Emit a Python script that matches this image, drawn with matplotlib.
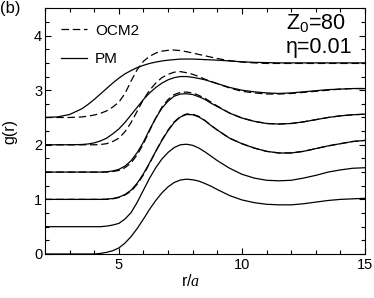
import numpy as np
import matplotlib
matplotlib.use('Agg')
from matplotlib import pyplot as plt
from matplotlib.ticker import MultipleLocator

plt.rcParams['font.family'] = ['Liberation Sans', 'DejaVu Sans']
plt.rcParams['mathtext.fontset'] = 'custom'
plt.rcParams['mathtext.rm'] = 'Liberation Sans'
plt.rcParams['mathtext.it'] = 'Liberation Serif:italic'

# r/a values (common grid for all curves, finer around the first peak)
r = [2, 2.5, 3, 3.5, 3.75, 4, 4.25, 4.5, 4.75, 5, 5.25, 5.5, 5.75, 6, 6.25, 6.5,
     6.75, 7, 7.25, 7.5, 7.75, 8, 8.25, 8.5, 8.75, 9, 9.5, 10, 10.5, 11, 11.5,
     12, 12.5, 13, 13.5, 14, 14.5, 15]

# PM curves (shifted by 0, 0.5, 1.0, 1.5, 2.0, 2.5)
pm_0 = [0, 0, 0, 0, 0, 0.0, 0.01, 0.03, 0.06, 0.11, 0.20, 0.32, 0.47, 0.64, 0.82, 0.98,
        1.12, 1.23, 1.31, 1.355, 1.37, 1.36, 1.335, 1.29, 1.24, 1.18, 1.07, 0.99, 0.94,
        0.91, 0.90, 0.90, 0.92, 0.95, 0.98, 1.00, 1.01, 1.02]
pm_05 = [0.5, 0.5, 0.5, 0.5, 0.5, 0.5, 0.5, 0.51, 0.53, 0.56, 0.64, 0.76, 0.95, 1.17, 1.39, 1.58,
         1.74, 1.86, 1.95, 2.00, 2.01, 1.99, 1.94, 1.87, 1.79, 1.71, 1.57, 1.46, 1.39,
         1.35, 1.34, 1.35, 1.39, 1.44, 1.50, 1.54, 1.57, 1.58]
pm_10 = [1, 1, 1, 1, 1, 1, 1, 1.005, 1.015, 1.04, 1.09, 1.17, 1.30, 1.47, 1.67, 1.88,
         2.08, 2.26, 2.41, 2.51, 2.555, 2.55, 2.51, 2.44, 2.35, 2.27, 2.12, 2.02, 1.94,
         1.88, 1.85, 1.85, 1.88, 1.93, 1.98, 2.02, 2.06, 2.08]
pm_15 = [1.5, 1.5, 1.5, 1.5, 1.5, 1.5, 1.5, 1.505, 1.52, 1.55, 1.61, 1.71, 1.86, 2.05, 2.28, 2.49,
         2.67, 2.80, 2.89, 2.93, 2.935, 2.92, 2.88, 2.83, 2.76, 2.70, 2.58, 2.49, 2.43,
         2.39, 2.38, 2.39, 2.42, 2.46, 2.50, 2.53, 2.55, 2.56]
pm_20 = [2.0, 2.0, 2.0, 2.005, 2.015, 2.035, 2.07, 2.12, 2.20, 2.29, 2.41, 2.55, 2.69, 2.83, 2.95, 3.05,
         3.13, 3.19, 3.23, 3.25, 3.25, 3.235, 3.215, 3.19, 3.155, 3.12, 3.05, 3.00, 2.97,
         2.95, 2.94, 2.95, 2.97, 2.99, 3.01, 3.02, 3.03, 3.03]
pm_25 = [2.5, 2.51, 2.555, 2.66, 2.74, 2.83, 2.93, 3.03, 3.13, 3.22, 3.30, 3.36, 3.415, 3.455, 3.49, 3.515,
         3.535, 3.55, 3.56, 3.57, 3.57, 3.57, 3.565, 3.56, 3.555, 3.55, 3.535, 3.52, 3.51,
         3.505, 3.50, 3.50, 3.50, 3.50, 3.50, 3.50, 3.50, 3.50]

# OCM2 curves (only the four upper ones)
ocm_10 = [1, 1, 1, 1, 1, 1, 1, 1.0, 1.01, 1.035, 1.08, 1.15, 1.28, 1.45, 1.66, 1.88,
          2.09, 2.27, 2.42, 2.52, 2.565, 2.56, 2.52, 2.445, 2.355, 2.27, 2.12, 2.02, 1.94,
          1.88, 1.85, 1.85, 1.88, 1.93, 1.98, 2.02, 2.06, 2.08]
ocm_15 = [1.5, 1.5, 1.5, 1.5, 1.5, 1.5, 1.5, 1.5, 1.51, 1.53, 1.58, 1.67, 1.82, 2.02, 2.26, 2.49,
          2.69, 2.83, 2.92, 2.96, 2.965, 2.95, 2.905, 2.85, 2.78, 2.71, 2.58, 2.49, 2.43,
          2.39, 2.38, 2.39, 2.42, 2.46, 2.50, 2.53, 2.55, 2.56]
ocm_20 = [2.0, 2.0, 2.0, 2.0, 2.0, 2.0, 2.005, 2.02, 2.06, 2.12, 2.24, 2.41, 2.62, 2.83, 3.00, 3.13,
          3.23, 3.29, 3.33, 3.34, 3.32, 3.29, 3.25, 3.20, 3.16, 3.12, 3.04, 2.98, 2.95,
          2.93, 2.93, 2.94, 2.96, 2.98, 3.00, 3.02, 3.03, 3.03]
ocm_25 = [2.5, 2.5, 2.5, 2.51, 2.525, 2.545, 2.575, 2.62, 2.69, 2.78, 2.94, 3.17, 3.38, 3.53, 3.62, 3.68,
          3.715, 3.73, 3.735, 3.725, 3.705, 3.68, 3.655, 3.63, 3.605, 3.58, 3.54, 3.515, 3.50,
          3.49, 3.49, 3.49, 3.49, 3.49, 3.49, 3.49, 3.49, 3.49]

pm_curves = [pm_0, pm_05, pm_10, pm_15, pm_20, pm_25]
ocm_curves = [ocm_10, ocm_15, ocm_20, ocm_25]

fig = plt.figure(figsize=(3.74, 2.98), dpi=100)
ax = fig.add_axes([0.1203, 0.1477, 0.8557, 0.8245])

lw = 0.9
for i, g in enumerate(ocm_curves):
    ax.plot(r, g, color='black', lw=lw, ls=(0, (6, 3)),
            label='OCM2' if i == 0 else None)
for i, g in enumerate(pm_curves):
    ax.plot(r, g, color='black', lw=lw, label='PM' if i == 0 else None)

ax.set_xlim(2, 15)
ax.set_ylim(0, 4.5)
ax.xaxis.set_major_locator(MultipleLocator(5))
ax.xaxis.set_minor_locator(MultipleLocator(1))
ax.yaxis.set_major_locator(MultipleLocator(1))
ax.yaxis.set_minor_locator(MultipleLocator(0.25))
ax.tick_params(which='both', direction='in', top=True, right=True, width=0.8)
ax.tick_params(which='major', length=4.5, labelsize=10.5)
ax.tick_params(axis='y', which='major', pad=2)
ax.tick_params(axis='x', which='major', pad=3)
ax.tick_params(which='minor', length=2.8)
for s in ax.spines.values():
    s.set_linewidth(0.8)

ax.legend(loc='upper left', frameon=False, fontsize=11, handlelength=1.75,
          handletextpad=0.5, labelspacing=0.95, borderaxespad=0.2,
          bbox_to_anchor=(0.02, 0.975))

ax.text(0.753, 0.9145, 'Z$_{\\mathrm{0}}$=80', transform=ax.transAxes,
        fontsize=15.5, va='baseline', ha='left')
ax.text(0.753, 0.817, '\u03b7=0.01', transform=ax.transAxes,
        fontsize=15.5, va='baseline', ha='left')

fig.text(0.0, 0.995, '(b)', fontsize=12, va='top', ha='left')
fig.text(0.509, 0.057, 'r/$a$', fontsize=11.5, ha='center', va='center')
fig.text(0.027, 0.56, 'g(r)', fontsize=11.5, rotation=90, ha='center', va='center')

fig.savefig('out.png', dpi=100)
